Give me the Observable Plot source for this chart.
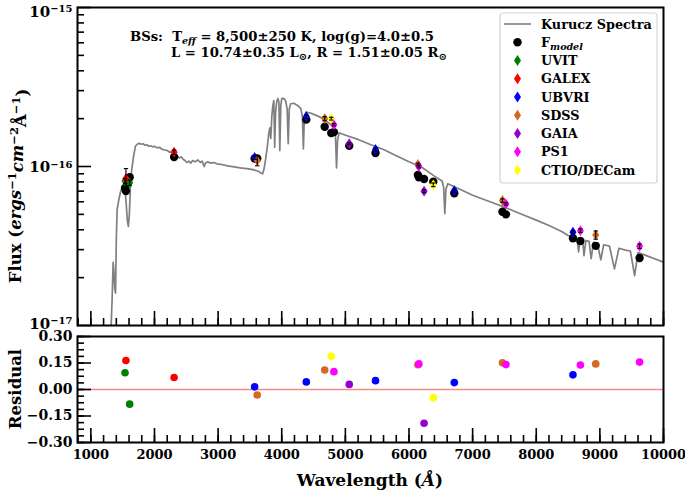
<!DOCTYPE html>
<html>
<head>
<meta charset="utf-8">
<script src="https://cdn.jsdelivr.net/npm/d3@7"></script>
<script src="https://cdn.jsdelivr.net/npm/@observablehq/plot@0.6"></script>
<style>
  html, body { margin: 0; padding: 0; background: #fff; }
  #chart { position: relative; width: 685px; height: 491px; }
  #chart svg { position: absolute; left: 0; overflow: visible; }
</style>
</head>
<body>
<div id="chart"></div>
<script>
// ---------- DATA ----------
// Kurucz model spectrum: wavelength (Å) and flux in units of 1e-16 erg s^-1 cm^-2 Å^-1
const specWave = [1300,1310,1335,1350,1362,1375,1388,1400,1413,1440,1465,1490,1515,1540,1560,1575,1590,1605,1622,1640,1670,1700,1730,1760,1790,1820,1850,1880,1910,1940,1970,2000,2040,2080,2120,2160,2200,2240,2270,2300,2330,2360,2390,2420,2450,2480,2510,2540,2570,2600,2640,2680,2720,2750,2780,2800,2840,2880,2930,2980,3050,3150,3250,3350,3450,3550,3640,3680,3700,3720,3745,3770,3795,3812,3828,3845,3860,3875,3889,3903,3920,3940,3955,3970,3985,4000,4030,4060,4085,4102,4118,4140,4190,4250,4300,4325,4340,4355,4380,4450,4550,4650,4750,4820,4845,4861,4877,4900,4950,5050,5200,5400,5600,5800,6000,6200,6400,6520,6545,6563,6580,6610,6800,7000,7200,7400,7600,7800,8000,8200,8400,8500,8600,8640,8665,8690,8730,8750,8780,8830,8863,8900,8960,9015,9060,9150,9229,9300,9400,9480,9546,9600,9700,9850,10000];
const specFlux = [0.05,0.08,0.15,0.25,0.22,0.17,0.16,0.35,0.54,0.62,0.69,0.73,0.76,0.70,0.55,0.45,0.42,0.50,0.75,0.94,1.15,1.34,1.38,1.40,1.38,1.39,1.36,1.37,1.34,1.35,1.33,1.34,1.31,1.32,1.28,1.27,1.26,1.23,1.24,1.20,1.18,1.17,1.13,1.15,1.11,1.09,1.06,1.08,1.05,1.09,1.07,1.10,1.06,1.08,1.00,1.05,1.07,1.05,1.06,1.04,1.03,1.01,0.995,0.98,0.97,0.955,0.93,0.905,0.90,0.96,1.10,1.30,1.60,1.75,1.50,2.10,2.40,2.60,1.32,2.20,2.55,2.68,2.55,1.26,2.40,2.67,2.68,2.60,2.30,1.39,2.30,2.48,2.50,2.42,2.31,2.05,1.29,2.00,2.20,2.17,2.09,2.00,1.86,1.77,1.55,0.98,1.45,1.63,1.60,1.55,1.48,1.37,1.28,1.17,1.07,0.99,0.87,0.81,0.74,0.505,0.72,0.78,0.72,0.66,0.615,0.575,0.535,0.495,0.46,0.425,0.39,0.368,0.358,0.352,0.29,0.348,0.345,0.275,0.342,0.338,0.263,0.333,0.330,0.259,0.322,0.316,0.227,0.306,0.298,0.294,0.206,0.288,0.278,0.264,0.250];

// Photometric bands
const bandNames  = ["UVIT","GALEX","UBVRI","SDSS","GAIA","PS1","CTIO/DECam"];
const bandColors = ["green","red","blue","chocolate","darkviolet","magenta","yellow"];

// Observed points (flux in 1e-16 units)
const pointBand = ["UVIT","UVIT","GALEX","GALEX","UBVRI","UBVRI","UBVRI","UBVRI","UBVRI","SDSS","SDSS","SDSS","SDSS","SDSS","GAIA","GAIA","PS1","PS1","PS1","PS1","PS1","CTIO/DECam","CTIO/DECam"];
const pointWave = [1537,1610,1551,2308,3574,4386,5474,6712,8577,3615,4675,6140,7469,8935,5061,6237,4820,6155,7524,8694,9624,4778,6382];
const obsFlux   = [0.81,0.79,0.84,1.23,1.14,2.06,1.28,0.706,0.386,1.09,2.00,1.03,0.611,0.371,1.39,0.70,1.83,1.00,0.582,0.395,0.315,2.00,0.767];
const obsErr    = [0.03,0.03,0.13,0.04,0.03,0.05,0.03,0.015,0.01,0.08,0.06,0.02,0.015,0.022,0.02,0.015,0.03,0.02,0.01,0.01,0.01,0.04,0.02];
const modelFlux = [0.733,0.856,0.702,1.146,1.123,1.971,1.216,0.678,0.354,1.124,1.78,0.886,0.519,0.317,1.350,0.834,1.645,0.855,0.500,0.340,0.266,1.624,0.802];
const residual  = [0.095,-0.083,0.164,0.068,0.015,0.043,0.050,0.039,0.083,-0.031,0.110,0.140,0.151,0.145,0.029,-0.191,0.101,0.145,0.141,0.139,0.155,0.188,-0.046];

// Ticks
const xTicks = [1000,2000,3000,4000,5000,6000,7000,8000,9000,10000];
const xMinor = d3.range(800, 10001, 200);
const yLogTicks = [0.1, 1, 10];            // 1e-17, 1e-16, 1e-15
const yLogMinor = [0.2,0.3,0.4,0.5,0.6,0.7,0.8,0.9,2,3,4,5,6,7,8,9];
const resTicks = [-0.30,-0.15,0,0.15,0.30];
const resMinor = d3.range(-0.30, 0.30001, 0.0375);

const legendLabels = ["Kurucz Spectra","F","UVIT","GALEX","UBVRI","SDSS","GAIA","PS1","CTIO/DECam"];

// ---------- BUILD ----------
const spec = specWave.map((w, i) => ({w, f: specFlux[i]}));
const pts = pointWave.map((w, i) => ({
  w, band: pointBand[i], obs: obsFlux[i], err: obsErr[i], model: modelFlux[i], res: residual[i]
}));
const colorOf = Object.fromEntries(bandNames.map((b, i) => [b, bandColors[i]]));

const thinDiamond = {
  draw(ctx, size) {
    const r = Math.sqrt(size / Math.PI);
    ctx.moveTo(0, -r * 1.35);
    ctx.lineTo(r * 0.88, 0);
    ctx.lineTo(0, r * 1.35);
    ctx.lineTo(-r * 0.88, 0);
    ctx.closePath();
  }
};
const capSymbol = {
  draw(ctx, size) {
    const r = Math.sqrt(size / Math.PI);
    ctx.moveTo(-r, 0);
    ctx.lineTo(r, 0);
  }
};

const FONT = "DejaVu Serif, serif";
const W = 685;
const xDomain = [790, 10000];
const tickW = 1.6;

const topPlot = Plot.plot({
  width: W, height: 330,
  marginTop: 7, marginBottom: 5, marginLeft: 77, marginRight: 22,
  style: {fontFamily: FONT, fontWeight: "bold", fontSize: "15px", color: "black", background: "transparent"},
  x: {domain: xDomain, axis: null},
  y: {type: "log", domain: [0.1, 10], axis: null},
  marks: [
    Plot.line(spec, {x: "w", y: "f", stroke: "#808080", strokeWidth: 1.7, clip: true}),
    Plot.dot(pts, {x: "w", y: "model", r: 4.2, fill: "black"}),
    Plot.dot(pts, {x: "w", y: "obs", r: 4, symbol: thinDiamond, fill: d => colorOf[d.band], stroke: "none"}),
    Plot.ruleX(pts, {x: "w", y1: d => d.obs - d.err, y2: d => d.obs + d.err, stroke: "black", strokeWidth: 1.1}),
    Plot.dot(pts, {x: "w", y: d => d.obs + d.err, r: 2.2, symbol: capSymbol, stroke: "black", fill: "none", strokeWidth: 1.1}),
    Plot.dot(pts, {x: "w", y: d => d.obs - d.err, r: 2.2, symbol: capSymbol, stroke: "black", fill: "none", strokeWidth: 1.1}),
    Plot.axisX(xTicks, {anchor: "bottom", tickSize: -14, fill: "none", label: null, strokeWidth: tickW}),
    Plot.axisX(xMinor, {anchor: "bottom", tickSize: -7, fill: "none", label: null, strokeWidth: tickW}),
    Plot.axisY(yLogTicks, {anchor: "left", tickSize: -14, fill: "none", label: null, strokeWidth: tickW}),
    Plot.axisY(yLogMinor, {anchor: "left", tickSize: -7, fill: "none", label: null, strokeWidth: tickW}),
    Plot.axisY(yLogTicks, {anchor: "left", tickSize: 0, tickPadding: 5, label: null,
      tickFormat: d => "10^" + (Math.round(Math.log10(d)) - 16)}),
    Plot.frame({stroke: "black", strokeWidth: 2})
  ]
});

const botPlot = Plot.plot({
  width: W, height: 166,
  marginTop: 11, marginBottom: 49, marginLeft: 77, marginRight: 22,
  style: {fontFamily: FONT, fontWeight: "bold", fontSize: "13px", color: "black", background: "transparent"},
  x: {domain: xDomain, axis: null},
  y: {domain: [-0.30, 0.30], axis: null},
  marks: [
    Plot.ruleY([0], {stroke: "#f58c8c", strokeWidth: 1.5}),
    Plot.dot(pts, {x: "w", y: "res", r: 3.8, fill: d => colorOf[d.band], stroke: "none"}),
    Plot.axisX(xTicks, {anchor: "bottom", tickSize: -14, fill: "none", label: null, strokeWidth: tickW}),
    Plot.axisX(xMinor, {anchor: "bottom", tickSize: -7, fill: "none", label: null, strokeWidth: tickW}),
    Plot.axisX(xTicks, {anchor: "bottom", tickSize: 0, tickPadding: 7, label: null, fontSize: 13, tickFormat: d => String(d)}),
    Plot.axisY(resTicks, {anchor: "left", tickSize: -14, fill: "none", label: null, strokeWidth: tickW}),
    Plot.axisY(resMinor, {anchor: "left", tickSize: -7, fill: "none", label: null, strokeWidth: tickW}),
    Plot.axisY(resTicks, {anchor: "left", tickSize: 0, tickPadding: 5, label: null, fontSize: 14, tickFormat: d3.format(".2f")}),
    Plot.frame({stroke: "black", strokeWidth: 2})
  ]
});

const chart = document.getElementById("chart");
topPlot.style.top = "0px";
botPlot.style.top = "325px";
chart.appendChild(topPlot);
chart.appendChild(botPlot);

// ---------- post-process superscripted log tick labels ----------
d3.select(topPlot).selectAll("text").each(function () {
  const t = this.textContent;
  if (t.startsWith("10^")) {
    const e = t.slice(3);
    const exp = e.replace("-", "\u2212");
    const shift = e === "-15" ? "0.28em" : (e === "-17" ? "-0.12em" : "0.05em");
    const sel = d3.select(this);
    sel.text("");
    sel.append("tspan").attr("dy", shift).text("10");
    sel.append("tspan").attr("dy", "-0.42em").attr("font-size", "10px").text(exp);
  }
});

const ts = d3.select(topPlot);
const bs = d3.select(botPlot);

// Annotation
const ANN = "13.2px";
const ann1 = ts.append("text").attr("x", 130).attr("y", 41).attr("text-anchor", "start")
  .attr("font-family", FONT).attr("font-weight", "bold").attr("font-size", ANN).attr("fill", "black");
ann1.append("tspan").text("BSs:  T");
ann1.append("tspan").attr("dy", 3).attr("font-size", "9.5px").attr("font-style", "italic").text("eff");
ann1.append("tspan").attr("dy", -3).text(" = 8,500\u00b1250 K, log(g)=4.0\u00b10.5");
const ann2 = ts.append("text").attr("x", 171).attr("y", 57).attr("text-anchor", "start")
  .attr("font-family", FONT).attr("font-weight", "bold").attr("font-size", ANN).attr("fill", "black");
ann2.append("tspan").text("L = 10.74\u00b10.35 L");
ann2.append("tspan").attr("dy", 3).attr("font-size", "10px").text("\u2299");
ann2.append("tspan").attr("dy", -3).text(", R = 1.51\u00b10.05 R");
ann2.append("tspan").attr("dy", 3).attr("font-size", "10px").text("\u2299");

// Y label (top)
const yl = ts.append("text").attr("transform", "translate(21,186) rotate(-90)")
  .attr("text-anchor", "middle").attr("font-family", FONT).attr("font-weight", "bold")
  .attr("font-size", "16.5px").attr("fill", "black");
yl.append("tspan").text("Flux (");
yl.append("tspan").attr("font-style", "italic").text("ergs");
yl.append("tspan").attr("dy", "-0.45em").attr("font-size", "11.5px").text("\u22121");
yl.append("tspan").attr("dy", "0.45em").attr("font-style", "italic").text("cm");
yl.append("tspan").attr("dy", "-0.45em").attr("font-size", "11.5px").text("\u22122");
yl.append("tspan").attr("dy", "0.45em").text("\u00c5");
yl.append("tspan").attr("dy", "-0.45em").attr("font-size", "11.5px").text("\u22121");
yl.append("tspan").attr("dy", "0.45em").text(")");

// Legend
const lg = ts.append("g").attr("font-family", FONT).attr("font-weight", "bold").attr("font-size", "12.8px")
  .attr("text-anchor", "start");
lg.append("rect").attr("x", 500).attr("y", 13).attr("width", 157).attr("height", 170)
  .attr("rx", 3).attr("fill", "white").attr("fill-opacity", 0.85).attr("stroke", "#d4d4d4").attr("stroke-width", 1.2);
const rowY0 = 24, rowDy = 18.25;
legendLabels.forEach((lab, i) => {
  const y = rowY0 + i * rowDy;
  if (i === 0) {
    lg.append("line").attr("x1", 504).attr("x2", 531).attr("y1", y).attr("y2", y)
      .attr("stroke", "#808080").attr("stroke-width", 1.6);
  } else if (i === 1) {
    lg.append("circle").attr("cx", 517.5).attr("cy", y).attr("r", 4.2).attr("fill", "black");
  } else {
    const p = d3.path();
    thinDiamond.draw(p, Math.PI * 16);
    lg.append("path").attr("d", p.toString()).attr("transform", `translate(517.5,${y})`)
      .attr("fill", bandColors[i - 2]);
  }
  const t = lg.append("text").attr("x", 541).attr("y", y + 4.5).attr("fill", "black").attr("text-anchor", "start");
  t.append("tspan").text(lab);
  if (i === 1) t.append("tspan").attr("dy", 3).attr("font-size", "9.5px").attr("font-style", "italic").text("model");
});

// Bottom labels
bs.append("text").attr("transform", "translate(21,64) rotate(-90)")
  .attr("text-anchor", "middle").attr("font-family", FONT).attr("font-weight", "bold")
  .attr("font-size", "16.5px").attr("fill", "black").text("Residual");
const xl = bs.append("text").attr("x", 370).attr("y", 161).attr("text-anchor", "middle")
  .attr("font-family", FONT).attr("font-weight", "bold").attr("font-size", "17px").attr("fill", "black");
xl.append("tspan").text("Wavelength (");
xl.append("tspan").attr("font-style", "italic").text("\u00c5");
xl.append("tspan").text(")");
</script>
</body>
</html>
